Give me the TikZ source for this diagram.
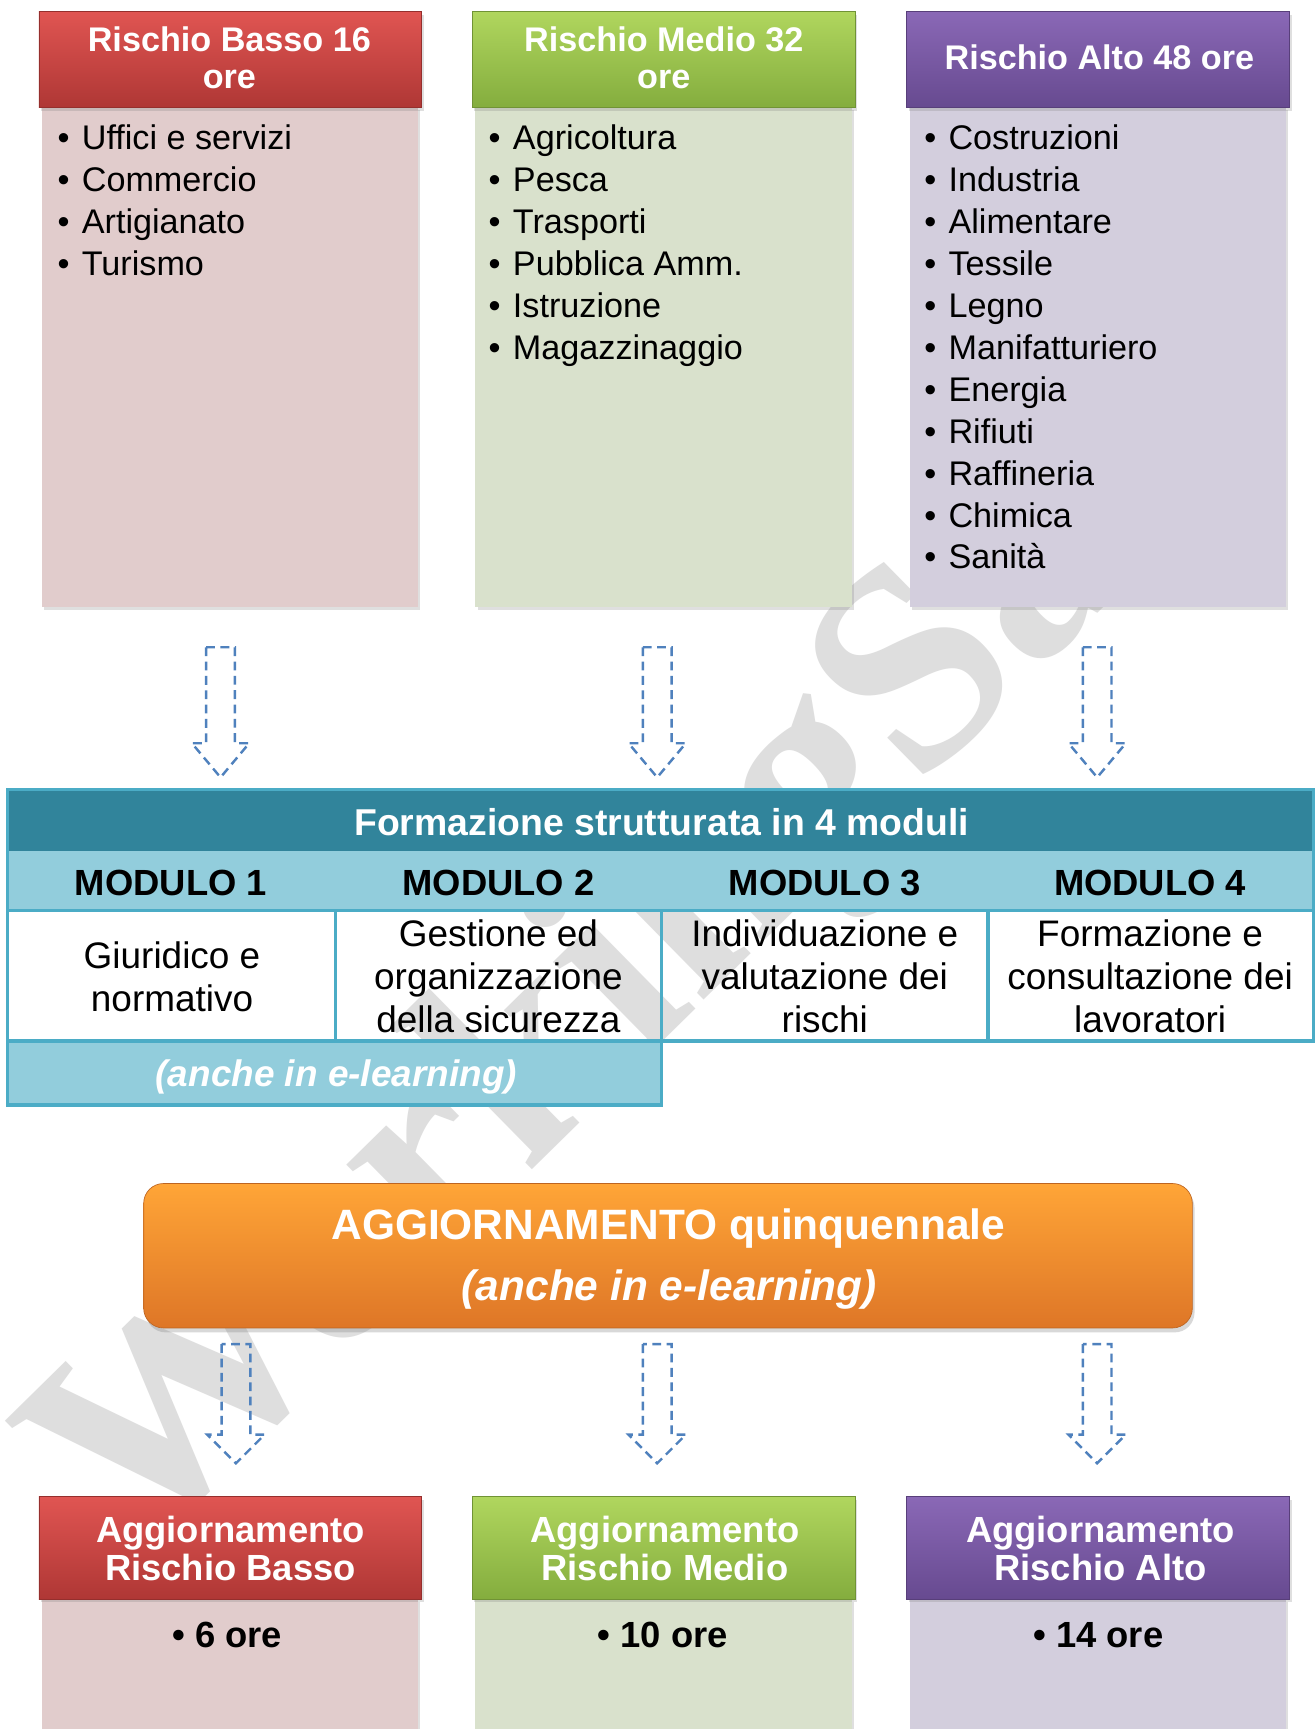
\documentclass[tikz,border=0pt]{standalone}
\usepackage{fontspec}
\setmainfont{Liberation Sans}
\newfontfamily\wmfont{Liberation Serif}
\usetikzlibrary{shadows}
\definecolor{redT}{HTML}{E05552}
\definecolor{redB}{HTML}{AF3735}
\definecolor{greenT}{HTML}{B0D65E}
\definecolor{greenB}{HTML}{84AD3E}
\definecolor{purpT}{HTML}{8A68B6}
\definecolor{purpB}{HTML}{674A90}
\definecolor{redL}{HTML}{E1CCCC}
\definecolor{greenL}{HTML}{D9E1CC}
\definecolor{purpL}{HTML}{D3CEDD}
\definecolor{orT}{HTML}{FFA537}
\definecolor{orB}{HTML}{DE7627}
\definecolor{tealD}{HTML}{31849B}
\definecolor{tealL}{HTML}{92CDDC}
\definecolor{tealB}{HTML}{4BACC6}
\definecolor{arrC}{HTML}{4F81BD}
\definecolor{wmC}{RGB}{222,222,222}
\newcommand{\myarrow}[4]{%
  \draw[arr] (#1-13,#2) -- (#1-13,#3) -- (#1-26,#3) -- (#1,#4) -- (#1+26,#3) -- (#1+13,#3) -- (#1+13,#2) -- cycle;}
\begin{document}
\begin{tikzpicture}[x=1pt,y=-1pt,
  hdr/.style={inner sep=0, minimum width=347pt, anchor=north west, draw=#1B!85!black, line width=0.5pt,
     top color=#1T, bottom color=#1B, drop shadow={shadow xshift=2pt, shadow yshift=-3pt, opacity=0.25}},
  body/.style={inner sep=0, minimum width=341pt, anchor=north west, fill=#1,
     drop shadow={shadow xshift=2pt, shadow yshift=-3pt, opacity=0.25}},
  htxt/.style={anchor=base, inner sep=0, text=white, font=\bfseries\fontsize{31}{33}\selectfont},
  btxt/.style={anchor=base, inner sep=0, text=white, font=\bfseries\fontsize{33}{34}\selectfont},
  itxt/.style={anchor=base west, inner sep=0, font=\fontsize{31}{38}\selectfont},
  cell/.style={inner sep=0, anchor=north west},
  ctxt/.style={anchor=base, inner sep=0, font=\fontsize{33.5}{39}\selectfont},
  mtxt/.style={anchor=base, inner sep=0, font=\bfseries\fontsize{33}{39}\selectfont},
  grid/.style={draw=tealB, line width=3pt},
  arr/.style={draw=arrC, line width=2.2pt, dash pattern=on 8pt off 5pt, line join=miter}
]
\useasboundingbox[fill=white] (0,0) rectangle (1192,1568);

% watermark
\node[anchor=base west, inner sep=0, text=wmC, rotate=44.5, font=\wmfont\bfseries\fontsize{263}{263}\selectfont] (wm) at (123,1414) {WorkingSafe};

% ---------- top boxes ----------
\node[body=redL, minimum height=453pt] (b1) at (38,97) {};
\node[hdr=red, minimum height=87pt] (h1) at (35,10) {};
\node[body=greenL, minimum height=453pt] (b2) at (431,97) {};
\node[hdr=green, minimum height=87pt] (h2) at (428,10) {};
\node[body=purpL, minimum height=453pt] (b3) at (825,97) {};
\node[hdr=purp, minimum height=87pt] (h3) at (822,10) {};

\node[htxt] (h1a) at (208,47) {Rischio Basso 16};
\node[htxt] (h1b) at (208,80) {ore};
\node[htxt] (h2a) at (602,47) {Rischio Medio 32};
\node[htxt] (h2b) at (602,80) {ore};
\node[htxt] (h3a) at (997,63) {Rischio Alto 48 ore};

\foreach \t [count=\i from 0] in {Uffici e servizi,Commercio,Artigianato,Turismo}{
  \node[itxt] (ba\i) at (52,{136+38*\i}) {\textbullet};
  \node[itxt] (ta\i) at (74,{136+38*\i}) {\t};
}
\foreach \t [count=\i from 0] in {Agricoltura,Pesca,Trasporti,Pubblica Amm.,Istruzione,Magazzinaggio}{
  \node[itxt] (bb\i) at (443,{136+38*\i}) {\textbullet};
  \node[itxt] (tb\i) at (465,{136+38*\i}) {\t};
}
\foreach \t [count=\i from 0] in {Costruzioni,Industria,Alimentare,Tessile,Legno,Manifatturiero,Energia,Rifiuti,Raffineria,Chimica,Sanità}{
  \node[itxt] (bc\i) at (838,{136+38*\i}) {\textbullet};
  \node[itxt] (tc\i) at (860,{136+38*\i}) {\t};
}

% ---------- arrows ----------
\myarrow{200}{587}{674}{705}
\myarrow{596}{587}{674}{705}
\myarrow{995}{587}{674}{705}

% ---------- table ----------
\node[cell, fill=tealD, minimum width=1184pt, minimum height=56pt] (ttl) at (7,716) {};
\node[cell, fill=tealL, minimum width=1184pt, minimum height=54pt] (mod) at (7,772) {};
\node[cell, fill=tealL, minimum width=593pt, minimum height=58pt] (elr) at (7,944) {};
\draw[grid] (7,716) rectangle (1191,944);
\draw[grid] (7,826) -- (1191,826);
\draw[grid] (304,826) -- (304,944);
\draw[grid] (600,826) -- (600,944);
\draw[grid] (896,826) -- (896,944);
\draw[grid] (7,944) rectangle (600,1002);

\node[anchor=base, inner sep=0, text=white, font=\bfseries\fontsize{33.9}{39}\selectfont] (ttlt) at (600,758) {Formazione strutturata in 4 moduli};
\node[mtxt] (m1) at (155,812) {MODULO 1};
\node[mtxt] (m2) at (452,812) {MODULO 2};
\node[mtxt] (m3) at (748,812) {MODULO 3};
\node[mtxt] (m4) at (1043,812) {MODULO 4};

\node[ctxt] (c1a) at (156,878) {Giuridico e};
\node[ctxt] (c1b) at (156,917) {normativo};
\node[ctxt] (c2a) at (452,858) {Gestione ed};
\node[ctxt] (c2b) at (452,897) {organizzazione};
\node[ctxt] (c2c) at (452,936) {della sicurezza};
\node[ctxt] (c3a) at (748,858) {Individuazione e};
\node[ctxt] (c3b) at (748,897) {valutazione dei};
\node[ctxt] (c3c) at (748,936) {rischi};
\node[ctxt] (c4a) at (1043,858) {Formazione e};
\node[ctxt] (c4b) at (1043,897) {consultazione dei};
\node[ctxt] (c4c) at (1043,936) {lavoratori};
\node[anchor=base, inner sep=0, text=white, font=\bfseries\itshape\fontsize{33.5}{39}\selectfont] (elt) at (305,985) {(anche in e-learning)};

% ---------- orange box ----------
\node[inner sep=0, anchor=north west, minimum width=951pt, minimum height=131pt, rounded corners=18pt,
  top color=orT, bottom color=orB, draw=orB!85!black, line width=0.6pt,
  drop shadow={shadow xshift=2pt, shadow yshift=-4pt, opacity=0.3}] (agg) at (130,1073) {};
\node[anchor=base, inner sep=0, text=white, font=\bfseries\fontsize{38.5}{55}\selectfont] (agga) at (606,1124) {AGGIORNAMENTO quinquennale};
\node[anchor=base, inner sep=0, text=white, font=\bfseries\itshape\fontsize{38.5}{55}\selectfont] (aggb) at (607,1179) {(anche in e-learning)};

% ---------- lower arrows ----------
\myarrow{214}{1219}{1301}{1327}
\myarrow{596}{1219}{1301}{1327}
\myarrow{995}{1219}{1301}{1327}

% ---------- bottom boxes ----------
\node[body=redL, minimum height=125pt] (d1) at (38,1450) {};
\node[hdr=red, minimum height=93pt] (g1) at (35,1357) {};
\node[body=greenL, minimum height=125pt] (d2) at (431,1450) {};
\node[hdr=green, minimum height=93pt] (g2) at (428,1357) {};
\node[body=purpL, minimum height=125pt] (d3) at (825,1450) {};
\node[hdr=purp, minimum height=93pt] (g3) at (822,1357) {};

\node[btxt] (g1a) at (209,1399) {Aggiornamento};
\node[btxt] (g1b) at (209,1433) {Rischio Basso};
\node[btxt] (g2a) at (603,1399) {Aggiornamento};
\node[btxt] (g2b) at (603,1433) {Rischio Medio};
\node[btxt] (g3a) at (998,1399) {Aggiornamento};
\node[btxt] (g3b) at (998,1433) {Rischio Alto};

\node[anchor=base, inner sep=0, font=\bfseries\fontsize{33}{39}\selectfont] (o1) at (206,1494) {\textbullet\ 6 ore};
\node[anchor=base, inner sep=0, font=\bfseries\fontsize{33}{39}\selectfont] (o2) at (601,1494) {\textbullet\ 10 ore};
\node[anchor=base, inner sep=0, font=\bfseries\fontsize{33}{39}\selectfont] (o3) at (996,1494) {\textbullet\ 14 ore};
\end{tikzpicture}
\end{document}
